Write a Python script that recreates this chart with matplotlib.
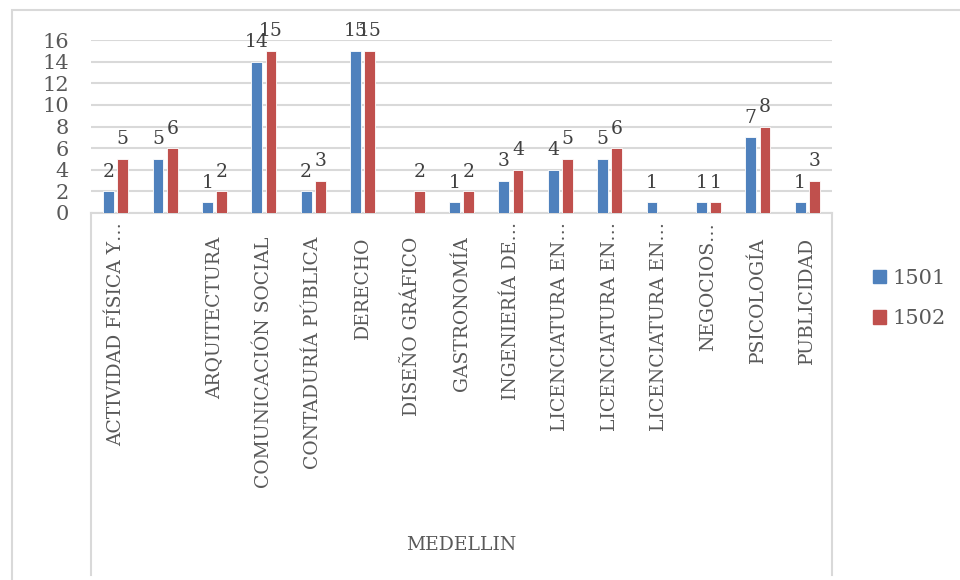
import numpy as np
import matplotlib
matplotlib.use("Agg")
import matplotlib.pyplot as plt
from matplotlib.patches import Rectangle
from matplotlib.lines import Line2D

plt.rcParams['font.family'] = ['DejaVu Serif']

carreras = ["ACTIVIDAD FÍSICA Y…", "", "ARQUITECTURA", "COMUNICACIÓN SOCIAL",
            "CONTADURÍA PÚBLICA", "DERECHO", "DISEÑO GRÁFICO", "GASTRONOMÍA",
            "INGENIERÍA DE…", "LICENCIATURA EN…", "LICENCIATURA EN…",
            "LICENCIATURA EN…", "NEGOCIOS…", "PSICOLOGÍA", "PUBLICIDAD"]
s1501 = [2, 5, 1, 14, 2, 15, np.nan, 1, 3, 4, 5, 1, 1, 7, 1]
s1502 = [5, 6, 2, 15, 3, 15, 2, 2, 4, 5, 6, np.nan, 1, 8, 3]
series = ["1501", "1502"]
sede = "MEDELLIN"
yticks = [0, 2, 4, 6, 8, 10, 12, 14, 16]

azul = "#4F81BD"
rojo = "#C0504D"
gris = "#595959"
linea = "#D9D9D9"

W, H = 960, 580
fig = plt.figure(figsize=(W / 100, H / 100), dpi=100)
ax = fig.add_axes([91 / W, 1 - 213 / H, (832 - 91) / W, (213 - 40) / H])

x = np.arange(len(carreras))
bw = 0.22
off = 0.145
for vals, col, dx in [(s1501, azul, -off), (s1502, rojo, off)]:
    bars = ax.bar(x + dx, vals, width=bw, color=col, edgecolor="white",
                  linewidth=0.6, zorder=3)
    for xi, v in zip(x + dx, vals):
        if np.isnan(v):
            continue
        ax.annotate(f"{int(v)}", xy=(xi, v), xytext=(0, 10.5),
                    textcoords="offset points", ha="center", va="baseline",
                    fontsize=13.5, color="#404040", annotation_clip=False)

ax.set_xlim(-0.5, len(carreras) - 0.5)
ax.set_ylim(0, 16)
ax.set_yticks(yticks)
ax.yaxis.grid(True, color=linea, linewidth=1.5, zorder=0)
ax.tick_params(axis="y", length=0, pad=16, labelsize=15, labelcolor=gris)
ax.set_xticks([])
for s in ["top", "left", "right"]:
    ax.spines[s].set_visible(False)
ax.spines["bottom"].set_color(linea)
ax.spines["bottom"].set_linewidth(1.5)

# category names under the axis
for i, lab in enumerate(carreras):
    dy = 6.5 if lab.endswith("…") else 17
    ax.annotate(lab, xy=(i, 0), xycoords=("data", "axes fraction"),
                xytext=(0, -dy), textcoords="offset points", rotation=90,
                ha="center", va="top", fontsize=13.5, color=gris,
                annotation_clip=False)

fig.text(461 / W, 1 - 545 / H, sede, ha="center", va="center",
         fontsize=13.5, color=gris)

# category box and outer frame
for xv in (91, 832):
    fig.add_artist(Line2D([xv / W, xv / W], [1 - 213 / H, 1 - 575 / H],
                          color=linea, linewidth=1.5))
fig.add_artist(Rectangle((12 / W, -0.02), 1.0, 1 - 10 / H + 0.02,
                         transform=fig.transFigure, fill=False,
                         edgecolor=linea, linewidth=1.5))

handles = [Rectangle((0, 0), 1, 1, color=azul), Rectangle((0, 0), 1, 1, color=rojo)]
fig.legend(handles, series, loc="center left",
           bbox_to_anchor=(873 / W, 1 - 298.5 / H), frameon=False,
           fontsize=15, labelcolor=gris, handlelength=0.6, handleheight=0.6,
           handletextpad=0.35, labelspacing=1.05, borderpad=0,
           borderaxespad=0)

fig.savefig("out.png", dpi=100)
